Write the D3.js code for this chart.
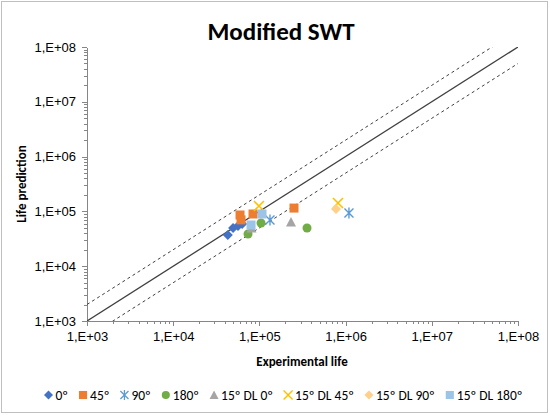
<!DOCTYPE html>
<meta charset="utf-8">
<title>Modified SWT</title>
<style>

body {
  margin: 0;
}

svg {
  font-family: Carlito, Calibri, Lato, sans-serif;
}

.axis path,
.axis line {
  fill: none;
  stroke: #868686;
  shape-rendering: crispEdges;
}

.axis text {
  font-size: 13px;
  fill: #000;
}

</style>
<body>
<script src="https://d3js.org/d3.v7.min.js"></script>
<script>

// series names and values (experimental life, predicted life)
var seriesNames = ["0º", "45º", "90º", "180º", "15º DL 0º", "15º DL 45º", "15º DL 90º", "15º DL 180º"];

var exp0 = [43000, 49500, 56500, 63000],
    pred0 = [37000, 50000, 54000, 59000];
var exp45 = [59600, 61200, 84300, 252000],
    pred45 = [86000, 70000, 89700, 115000];
var exp90 = [132700, 1094000],
    pred90 = [69700, 93500];
var exp180 = [73800, 104400, 356700],
    pred180 = [38700, 61400, 49800];
var expDL0 = [232600, 81000],
    predDL0 = [64100, 50000];
var expDL45 = [98900, 816000],
    predDL45 = [125500, 142200];
var expDL90 = [774000],
    predDL90 = [110600];
var expDL180 = [107200, 80000],
    predDL180 = [89700, 56500];

var tickValues = [1e3, 1e4, 1e5, 1e6, 1e7, 1e8];
var scatterFactor = 2;

var seriesX = [exp0, exp45, exp90, exp180, expDL0, expDL45, expDL90, expDL180],
    seriesY = [pred0, pred45, pred90, pred180, predDL0, predDL45, predDL90, predDL180];

var colors = ["#4472C4", "#ED7D31", "#5B9BD5", "#70AD47", "#A5A5A5", "#FFC000", "#FFD08A", "#9DC3E6"];
var shapes = ["diamond", "square", "asterisk", "circle", "triangle", "cross", "diamond", "square"];

var width = 550, height = 416;
var plot = {left: 87, right: 518, top: 47, bottom: 321};

var x = d3.scaleLog()
    .domain([1e3, 1e8])
    .range([plot.left, plot.right]);

var y = d3.scaleLog()
    .domain([1e3, 1e8])
    .range([plot.bottom, plot.top]);

var fmt = function(d) { return "1,E+0" + Math.round(Math.log10(d)); };

var svg = d3.select("body").append("svg")
    .attr("width", width)
    .attr("height", height);

svg.append("rect")
    .attr("x", 1.5)
    .attr("y", 1.5)
    .attr("width", width - 4)
    .attr("height", height - 5)
    .attr("fill", "#fff")
    .attr("stroke", "#bfbfbf");

svg.append("text")
    .attr("x", 281)
    .attr("y", 40)
    .attr("text-anchor", "middle")
    .attr("font-size", "25px")
    .attr("font-weight", "bold")
    .text("Modified SWT");

// minor ticks
var minor = [];
for (var e = 3; e < 8; e++) {
  for (var m = 2; m < 10; m++) minor.push(m * Math.pow(10, e));
}

svg.append("g")
    .attr("class", "axis")
    .attr("transform", "translate(0," + plot.bottom + ")")
    .call(d3.axisBottom(x).tickValues(minor).tickSize(3).tickFormat(""))
    .call(function(g) { g.select(".domain").remove(); });

svg.append("g")
    .attr("class", "axis")
    .attr("transform", "translate(" + plot.left + ",0)")
    .call(d3.axisLeft(y).tickValues(minor).tickSize(3).tickFormat(""))
    .call(function(g) { g.select(".domain").remove(); });

svg.append("g")
    .attr("class", "axis")
    .attr("transform", "translate(0," + plot.bottom + ")")
    .call(d3.axisBottom(x).tickValues(tickValues).tickSize(5).tickSizeOuter(0).tickPadding(6).tickFormat(fmt));

svg.append("g")
    .attr("class", "axis")
    .attr("transform", "translate(" + plot.left + ",0)")
    .call(d3.axisLeft(y).tickValues(tickValues).tickSize(5).tickSizeOuter(0).tickPadding(6).tickFormat(fmt));

svg.append("text")
    .attr("x", 302)
    .attr("y", 366)
    .attr("text-anchor", "middle")
    .attr("font-size", "13px")
    .attr("font-weight", "bold")
    .text("Experimental life");

svg.append("text")
    .attr("transform", "translate(26,184) rotate(-90)")
    .attr("text-anchor", "middle")
    .attr("font-size", "13px")
    .attr("font-weight", "bold")
    .text("Life prediction");

// reference lines
svg.append("clipPath")
    .attr("id", "clip")
  .append("rect")
    .attr("x", plot.left)
    .attr("y", plot.top)
    .attr("width", plot.right - plot.left)
    .attr("height", plot.bottom - plot.top);

var lines = svg.append("g").attr("clip-path", "url(#clip)");
var lineData = [
  {f: 1, dash: null, w: 1.3},
  {f: scatterFactor, dash: "3,3", w: 1},
  {f: 1 / scatterFactor, dash: "3,3", w: 1}
];

lines.selectAll("line")
  .data(lineData)
  .enter().append("line")
    .attr("x1", x(1e3))
    .attr("y1", function(d) { return y(1e3 * d.f); })
    .attr("x2", x(1e8))
    .attr("y2", function(d) { return y(1e8 * d.f); })
    .attr("stroke", "#404040")
    .attr("stroke-width", function(d) { return d.w; })
    .attr("stroke-dasharray", function(d) { return d.dash; });

function marker(sel, shape, color) {
  var s = 4.5;
  if (shape === "circle") {
    sel.append("circle").attr("r", s).attr("fill", color);
  } else if (shape === "square") {
    sel.append("rect").attr("x", -s).attr("y", -s).attr("width", 2 * s).attr("height", 2 * s).attr("fill", color);
  } else if (shape === "diamond") {
    sel.append("path").attr("d", "M0,-5L5,0L0,5L-5,0Z").attr("fill", color);
  } else if (shape === "triangle") {
    sel.append("path").attr("d", "M0,-5L5,4.5L-5,4.5Z").attr("fill", color);
  } else if (shape === "cross") {
    sel.append("path").attr("d", "M-5,-5L5,5M5,-5L-5,5").attr("stroke", color).attr("stroke-width", 1.6).attr("fill", "none");
  } else if (shape === "asterisk") {
    sel.append("path").attr("d", "M-4.5,-4.5L4.5,4.5M4.5,-4.5L-4.5,4.5M0,-5.5L0,5.5").attr("stroke", color).attr("stroke-width", 1.4).attr("fill", "none");
  }
}

var points = svg.append("g");
seriesX.forEach(function(xs, i) {
  xs.forEach(function(v, j) {
    var g = points.append("g")
        .attr("transform", "translate(" + x(v) + "," + y(seriesY[i][j]) + ")");
    marker(g, shapes[i], colors[i]);
  });
});

// legend
var legend = svg.append("g").attr("transform", "translate(0,395)");
var cx = 0;
seriesNames.forEach(function(name, i) {
  var item = legend.append("g").attr("transform", "translate(" + cx + ",0)");
  var mg = item.append("g").attr("transform", "translate(5,0) scale(0.9)");
  marker(mg, shapes[i], colors[i]);
  var t = item.append("text")
      .attr("x", 12)
      .attr("dy", "0.35em")
      .attr("font-size", "13.5px")
      .text(name);
  cx += 12 + t.node().getComputedTextLength() + 10;
});
legend.attr("transform", "translate(" + ((width - (cx - 10)) / 2 + 8) + ",395)");

</script>
